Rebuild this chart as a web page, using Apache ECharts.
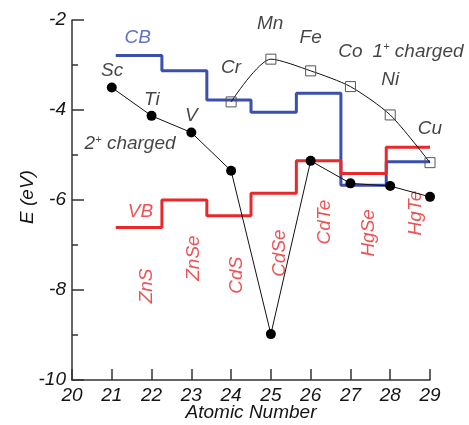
<!DOCTYPE html>
<html>
<head>
<meta charset="utf-8">
<script src="https://cdn.jsdelivr.net/npm/echarts@6/dist/echarts.min.js"></script>
<style>html,body{margin:0;padding:0;background:#fff}#c{width:469px;height:425px}</style>
</head>
<body>
<div id="c"></div>
<script>
// Step boundaries (atomic number) for the compound band edges
var bandEdges = [21.1, 22.26, 23.39, 24.5, 25.64, 26.76, 27.9, 29.0];
var compounds = ['ZnS', 'ZnSe', 'CdS', 'CdSe', 'CdTe', 'HgSe', 'HgTe'];
var cbValues = [-2.79, -3.13, -3.78, -4.05, -3.63, -5.67, -5.15];
var vbValues = [-6.61, -6.00, -6.35, -5.85, -5.13, -5.41, -4.83];

// 2+ charged (filled circles), Z = 21..29
var elements = ['Sc', 'Ti', 'V', 'Cr', 'Mn', 'Fe', 'Co', 'Ni', 'Cu'];
var atomicNumbers = [21, 22, 23, 24, 25, 26, 27, 28, 29];
var charged2 = [-3.50, -4.13, -4.50, -5.35, -8.98, -5.13, -5.63, -5.69, -5.93];
// 1+ charged (open squares), Z = 24..29
var z1 = [24, 25, 26, 27, 28, 29];
var charged1 = [-3.82, -2.87, -3.13, -3.48, -4.11, -5.17];

// Text annotations: [x, y, text]
var elementLabels = [[21.01, -3.12, 'Sc'], [22.01, -3.78, 'Ti'], [23.0, -4.12, 'V'], [24.0, -3.07, 'Cr'],
  [24.98, -2.08, 'Mn'], [26.0, -2.39, 'Fe'], [27.0, -2.71, 'Co'], [28.0, -3.33, 'Ni'], [29.0, -4.41, 'Cu']];
var compoundLabelPos = [[21.88, -7.91], [23.05, -7.29], [24.15, -7.67], [25.23, -7.18], [26.36, -6.49], [27.47, -6.73], [28.63, -6.29]];
var xTitle = 'Atomic Number';
var yTitle = 'E (eV)';

var RED = '#e8282a', BLUE = '#3a4fae', INK = '#151515';
var FONT = 'Liberation Sans';
var FS = 19;

function stepData(vals) {
  var d = [];
  for (var i = 0; i < vals.length; i++) {
    d.push([bandEdges[i], vals[i]]);
    d.push([bandEdges[i + 1], vals[i]]);
  }
  return d;
}

var chart = echarts.init(document.getElementById('c'));

var elemData = elementLabels.map(function (e) { return {value: [e[0], e[1]], name: e[2]}; });
var compData = compounds.map(function (c, i) {
  return {value: compoundLabelPos[i], name: c};
});

chart.setOption({
  animation: false,
  grid: {left: 72, right: 39, top: 20, bottom: 45, containLabel: false, outerBoundsMode: 'none'},
  graphic: [
    {type: 'text', x: 251, y: 413, style: {text: xTitle, fontFamily: FONT, fontStyle: 'italic', fontSize: FS, fill: INK, align: 'center', verticalAlign: 'middle'}},
    {type: 'text', x: 28, y: 197, rotation: Math.PI / 2, style: {text: yTitle, fontFamily: FONT, fontStyle: 'italic', fontSize: FS, fill: INK, align: 'center', verticalAlign: 'middle'}}
  ],
  xAxis: {
    type: 'value', min: 20, max: 29, interval: 1,
    axisLine: {lineStyle: {color: '#333', width: 1.5}},
    axisTick: {inside: true, length: 11, lineStyle: {color: '#333', width: 1.5}},
    axisLabel: {fontFamily: FONT, fontStyle: 'italic', fontSize: FS, color: INK, margin: 6},
    splitLine: {show: false}
  },
  yAxis: {
    type: 'value', min: -10, max: -2, interval: 2,
    axisLine: {show: true, lineStyle: {color: '#333', width: 1.5}},
    axisTick: {show: true, inside: true, length: 12, lineStyle: {color: '#333', width: 1.5}},
    minorTick: {show: true, splitNumber: 2, length: 6, lineStyle: {color: '#333', width: 1.5}},
    axisLabel: {fontFamily: FONT, fontStyle: 'italic', fontSize: FS, color: INK, margin: 6},
    splitLine: {show: false}
  },
  series: [
    {type: 'line', data: stepData(cbValues), symbol: 'none', lineStyle: {color: BLUE, width: 3}, z: 2},
    {type: 'line', data: stepData(vbValues), symbol: 'none', lineStyle: {color: RED, width: 3}, z: 2},
    {type: 'line', data: z1.map(function (z, i) { return [z, charged1[i]]; }),
      symbol: 'rect', symbolSize: 10, smooth: 0.25,
      lineStyle: {color: '#111', width: 1},
      itemStyle: {color: 'rgba(0,0,0,0)', borderColor: '#555', borderWidth: 1}, z: 3},
    {type: 'line', data: atomicNumbers.map(function (z, i) { return [z, charged2[i]]; }),
      symbol: 'circle', symbolSize: 10,
      lineStyle: {color: '#111', width: 1},
      itemStyle: {color: '#000'}, z: 4},
    {type: 'scatter', data: elemData, symbolSize: 0, silent: true,
      label: {show: true, position: 'inside', formatter: '{b}', fontFamily: FONT, fontStyle: 'italic', fontSize: FS, color: INK}},
    {type: 'scatter', data: compData, symbolSize: 0, silent: true,
      label: {show: true, position: 'inside', rotate: 90, formatter: '{b}', fontFamily: FONT, fontStyle: 'italic', fontSize: FS, color: RED}},
    {type: 'scatter', symbolSize: 0, silent: true,
      data: [
        {value: [21.65, -2.39], name: 'CB', label: {color: BLUE}},
        {value: [21.72, -6.26], name: 'VB', label: {color: RED}},
        {value: [21.46, -4.76], name: '2+ charged', label: {formatter: '2{sup|+} charged'}},
        {value: [28.7, -2.70], name: '1+ charged', label: {formatter: '1{sup|+} charged'}}
      ],
      label: {show: true, position: 'inside', formatter: '{b}', fontFamily: FONT, fontStyle: 'italic', fontSize: FS, color: INK,
        rich: {sup: {fontFamily: FONT, fontSize: 11, verticalAlign: 'top', padding: [0, 0, 9, 0], color: INK}}}}
  ]
});
</script>
</body>
</html>
